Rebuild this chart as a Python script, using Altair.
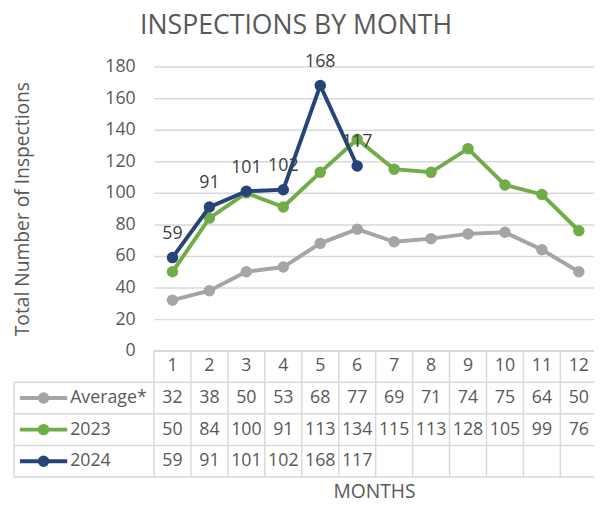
import altair as alt
import pandas as pd

# ---- data ----
months = list(range(1, 13))
series_names = ["Average*", "2023", "2024"]
avg_vals = [32, 38, 50, 53, 68, 77, 69, 71, 74, 75, 64, 50]
vals_2023 = [50, 84, 100, 91, 113, 134, 115, 113, 128, 105, 99, 76]
vals_2024 = [59, 91, 101, 102, 168, 117]
y_ticks = list(range(0, 181, 20))

# ---- style ----
colors = ["#A5A5A5", "#70AD47", "#264478"]
FONT = "Open Sans"
TXT = "#595959"
GRID = "#D9D9D9"

series_values = [avg_vals, vals_2023, vals_2024]

# layout of the data table under the plot (in the chart's own x / y units)
ROW = 20             # one table row, in y units
TABLE_LEFT = -3.29   # left edge of the legend column, in month units
TABLE_RIGHT = 12.5
LEG_X1, LEG_X2, LEG_MARK, LEG_TEXT = -3.13, -1.85, -2.49, -1.77
N_ROWS = 4

xscale = alt.Scale(domain=[0.5, 12.41], nice=False, zero=False)
yscale = alt.Scale(domain=[0, 180], nice=False, zero=True)

x_axis = alt.Axis(labels=False, ticks=False, grid=False, domain=False,
                  title="MONTHS", titleFont=FONT, titleFontSize=19.5,
                  titleFontWeight="normal", titleColor=TXT, titlePadding=134)
y_axis = alt.Axis(values=y_ticks, tickSize=0, domain=False, labelPadding=19,
                  labelFont=FONT, labelFontSize=18, labelColor=TXT,
                  gridColor=GRID, gridWidth=1.5,
                  title="Total Number of Inspections", titleFont=FONT,
                  titleFontSize=19.5, titleFontWeight="normal", titleColor=TXT,
                  titleAngle=-90, titleX=-133, titleY=144, titleAlign="center",
                  titleBaseline="middle")

X = alt.X("x:Q", scale=xscale, axis=x_axis)
Y = alt.Y("y:Q", scale=yscale, axis=y_axis)
X2 = alt.X2("x2:Q")
Y2 = alt.Y2("y2:Q")

layers = []

# ---- table grid lines ----
hl = [{"x": 0.5, "x2": TABLE_RIGHT, "y": 0, "y2": 0}]
for r in range(1, N_ROWS + 1):
    hl.append({"x": TABLE_LEFT, "x2": TABLE_RIGHT, "y": -r * ROW, "y2": -r * ROW})
vl = [{"x": m - 0.5, "x2": m - 0.5, "y": 0, "y2": -N_ROWS * ROW} for m in months + [13]]
vl.append({"x": TABLE_LEFT, "x2": TABLE_LEFT, "y": -ROW, "y2": -N_ROWS * ROW})
grid_df = pd.DataFrame(hl + vl)
layers.append(alt.Chart(grid_df).mark_rule(color=GRID, strokeWidth=1.5)
              .encode(x=X, x2=X2, y=Y, y2=Y2))

# ---- table header (month numbers) ----
hdr = pd.DataFrame({"x": months, "y": [-ROW / 2] * 12, "t": [str(m) for m in months]})
layers.append(alt.Chart(hdr).mark_text(font=FONT, fontSize=18, color=TXT, baseline="middle")
              .encode(x=X, y=Y, text="t:N"))

# ---- series: lines, markers, table rows, legend keys ----
for i, (name, vals, col) in enumerate(zip(series_names, series_values, colors)):
    df = pd.DataFrame({"x": months[:len(vals)], "y": vals})
    base = alt.Chart(df)
    layers.append(base.mark_line(color=col, strokeWidth=4).encode(x=X, y=Y))
    layers.append(base.mark_circle(color=col, size=135, opacity=1).encode(x=X, y=Y))

    row_c = -(i + 1.5) * ROW
    tdf = pd.DataFrame({"x": months[:len(vals)], "y": [row_c] * len(vals),
                        "t": [str(v) for v in vals]})
    layers.append(alt.Chart(tdf).mark_text(font=FONT, fontSize=18, color=TXT, baseline="middle")
                  .encode(x=X, y=Y, text="t:N"))

    kdf = pd.DataFrame({"x": [LEG_X1], "x2": [LEG_X2], "y": [row_c], "y2": [row_c]})
    layers.append(alt.Chart(kdf).mark_rule(color=col, strokeWidth=4)
                  .encode(x=X, x2=X2, y=Y))
    mdf = pd.DataFrame({"x": [LEG_MARK], "y": [row_c]})
    layers.append(alt.Chart(mdf).mark_circle(color=col, size=135, opacity=1)
                  .encode(x=X, y=Y))
    ldf = pd.DataFrame({"x": [LEG_TEXT], "y": [row_c], "t": [name]})
    layers.append(alt.Chart(ldf).mark_text(font=FONT, fontSize=18, color=TXT,
                                           align="left", baseline="middle")
                  .encode(x=X, y=Y, text="t:N"))

# ---- data labels for 2024 ----
lab = pd.DataFrame({"x": months[:len(vals_2024)], "y": vals_2024,
                    "t": [str(v) for v in vals_2024]})
layers.append(alt.Chart(lab).mark_text(font=FONT, fontSize=18, color="#404040",
                                       baseline="alphabetic", dy=-19)
              .encode(x=X, y=Y, text="t:N"))

chart = alt.layer(*layers).properties(
    width=446, height=288,
    autosize=alt.AutoSizeParams(type="none"),
    padding={"left": 148, "top": 56, "right": 0, "bottom": 151},
    title=alt.TitleParams("INSPECTIONS BY MONTH", font=FONT, fontSize=27,
                          fontWeight="normal", color=TXT, anchor="middle",
                          frame="group", dx=-79, dy=28, offset=20, baseline="alphabetic"),
).configure_view(stroke=None)

chart.save("out.html", embed_options={"renderer": "svg", "actions": False})
